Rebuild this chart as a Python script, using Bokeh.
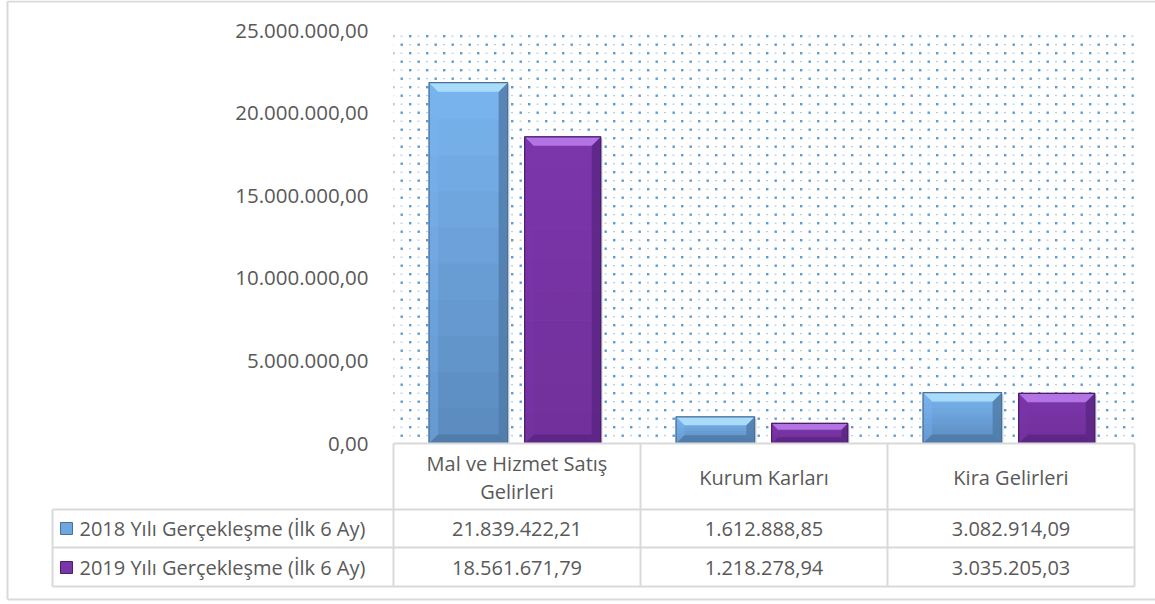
import base64
from bokeh.plotting import figure
from bokeh.models import Range1d, ImageURLTexture
from bokeh.core.properties import value
from bokeh.embed import file_html
from bokeh.resources import INLINE

# ---------------- data ----------------
categories = ["Mal ve Hizmet Satış\nGelirleri", "Kurum Karları", "Kira Gelirleri"]
series_names = ["2018 Yılı Gerçekleşme (İlk 6 Ay)", "2019 Yılı Gerçekleşme (İlk 6 Ay)"]
values_2018 = [21839422.21, 1612888.85, 3082914.09]
values_2019 = [18561671.79, 1218278.94, 3035205.03]
y_ticks = [0, 5000000, 10000000, 15000000, 20000000, 25000000]
y_max = 25000000


def tr_fmt(v):
    s = f"{v:,.2f}"
    return s.replace(",", "X").replace(".", ",").replace("X", ".")


# ---------------- layout (pixels on page) ----------------
FX0, FY0, W, H = 0, 0, 1155, 601
PL, PR, PT, PB = 393, 1134, 30, 443
NC = len(categories)
CW = (PR - PL) / NC
VPP = y_max / (PB - PT)


def dx(px):
    return -0.5 + (px - PL) / CW


def dy(py):
    return (PB - py) * VPP


FONT = value("Open Sans")
TXT = "#595959"
GRID = "#d9d9d9"

p = figure(width=W, height=H, output_backend="svg", toolbar_location=None,
           x_range=Range1d(dx(FX0), dx(FX0 + W)), y_range=Range1d(dy(FY0 + H), dy(FY0)),
           x_axis_location=None, y_axis_location=None, min_border=0, title=None)
p.grid.visible = False
p.outline_line_color = None
p.background_fill_color = "white"
p.border_fill_color = "white"

# outer chart border
p.segment(x0=[dx(7), dx(7), dx(7)], y0=[dy(1), dy(1), dy(599)],
          x1=[dx(7), dx(1155), dx(1155)], y1=[dy(599), dy(1), dy(599)],
          line_color=GRID, line_width=2)

# dotted plot-area background (Excel-like 5% dot pattern as a texture tile)
tile_svg = ("<svg xmlns='http://www.w3.org/2000/svg' width='17' height='17'>"
            "<rect x='1' y='1' width='2.4' height='2.4' fill='#5b9bd5'/>"
            "<rect x='9.5' y='9.5' width='2.4' height='2.4' fill='#5b9bd5'/>"
            "<rect x='9.5' y='1.6' width='2' height='1.1' fill='#5b9bd5' fill-opacity='0.55'/>"
            "<rect x='1' y='10.1' width='2' height='1.1' fill='#5b9bd5' fill-opacity='0.55'/>"
            "</svg>")
tile_url = "data:image/svg+xml;base64," + base64.b64encode(tile_svg.encode()).decode()
dots = ImageURLTexture(url=tile_url)
p.quad(left=[-0.5], right=[NC - 0.5], bottom=[0], top=[y_max], fill_color="white",
       line_color=None, hatch_pattern=value("dots"), hatch_extra={"dots": dots},
       hatch_color="#5b9bd5", hatch_alpha=1.0)


def lerp(c1, c2, t):
    a = [int(c1[i:i + 2], 16) for i in (1, 3, 5)]
    b = [int(c2[i:i + 2], 16) for i in (1, 3, 5)]
    return "#" + "".join(f"{round(a[k] + (b[k] - a[k]) * t):02x}" for k in range(3))


def bevel_bars(xs, vals, width, c_top, c_bot, c_bevel_top, c_side_r, c_bevel_bot, c_line):
    bpx = 9
    nb = 10
    p.vbar(x=[x + 2 / CW for x in xs], width=width, bottom=-3 * VPP,
           top=[v - 2 * VPP for v in vals], fill_color="#bfbfbf", fill_alpha=0.45,
           line_color=None)
    for i in range(nb):
        t0, t1 = i / nb, (i + 1) / nb
        col = lerp(c_bot, c_top, (t0 + t1) / 2)
        p.vbar(x=xs, width=width, bottom=[v * t0 for v in vals], top=[v * t1 for v in vals],
               fill_color=col, line_color=col, line_width=1)
    top_x, top_y, r_x, r_y, b_x, b_y, l_x, l_y = [], [], [], [], [], [], [], []
    for x, v in zip(xs, vals):
        hpx = v / VPP
        b = min(bpx, hpx / 3.2)
        bx, by = b / CW, b * VPP
        xl, xr = x - width / 2, x + width / 2
        top_x.append([xl, xr, xr - bx, xl + bx]); top_y.append([v, v, v - by, v - by])
        r_x.append([xr, xr, xr - bx, xr - bx]); r_y.append([v, 0, by, v - by])
        b_x.append([xl, xr, xr - bx, xl + bx]); b_y.append([0, 0, by, by])
        l_x.append([xl, xl, xl + bx, xl + bx]); l_y.append([v, 0, by, v - by])
    p.patches(l_x, l_y, fill_color=c_top, fill_alpha=0.35, line_color=None)
    p.patches(r_x, r_y, fill_color=c_side_r, fill_alpha=0.8, line_color=None)
    p.patches(b_x, b_y, fill_color=c_bevel_bot, fill_alpha=0.8, line_color=None)
    p.patches(top_x, top_y, fill_color=c_bevel_top, line_color=None)
    p.vbar(x=xs, width=width, bottom=0, top=vals, fill_color=None, line_color=c_line,
           line_width=1.2)


x18 = [i - 0.197 for i in range(NC)]
x19 = [i + 0.185 for i in range(NC)]
bevel_bars(x18, values_2018, 0.318, "#7ab5f0", "#5a8abd", "#a9dcf9", "#4f7aa8", "#4d78a5", "#4a6f99")
bevel_bars(x19, values_2019, 0.308, "#7c36ab", "#70309a", "#b274e2", "#5a2582", "#5a2582", "#4a1e6a")

# y tick labels
p.text(x=[dx(368)] * len(y_ticks), y=y_ticks, text=[tr_fmt(v) for v in y_ticks],
       text_align="right", text_baseline="middle", text_font=FONT, text_font_size="20.5px",
       text_color=TXT)

# ---------------- data table ----------------
row_lines = [509, 547, 586]
col_edges = [PL + i * CW for i in range(NC + 1)]
LEG_L = 52
p.quad(left=[dx(PL)], right=[dx(PR)], bottom=[dy(row_lines[-1])], top=[dy(PB)],
       fill_color="white", line_color=None)
p.segment(x0=[dx(PL)], y0=[dy(PB)], x1=[dx(PR)], y1=[dy(PB)], line_color=GRID, line_width=2)
p.segment(x0=[dx(LEG_L)] * 3, y0=[dy(r) for r in row_lines], x1=[dx(PR)] * 3,
          y1=[dy(r) for r in row_lines], line_color=GRID, line_width=2)
p.segment(x0=[dx(c) for c in col_edges], y0=[dy(PB)] * len(col_edges),
          x1=[dx(c) for c in col_edges], y1=[dy(row_lines[-1])] * len(col_edges),
          line_color=GRID, line_width=2)
p.segment(x0=[dx(LEG_L)], y0=[dy(row_lines[0])], x1=[dx(LEG_L)], y1=[dy(row_lines[-1])],
          line_color=GRID, line_width=2)

# header text
hx, hy, ht = [], [], []
for i, c in enumerate(categories):
    lines = c.split("\n")
    n = len(lines)
    for j, ln in enumerate(lines):
        hx.append(i)
        hy.append(dy(477 + (j - (n - 1) / 2) * 28))
        ht.append(ln)
p.text(x=hx, y=hy, text=ht, text_align="center", text_baseline="middle", text_font=FONT,
       text_font_size="20px", text_color=TXT)

# value rows
row_centers = [528, 567]
for vals, rc in zip([values_2018, values_2019], row_centers):
    p.text(x=list(range(NC)), y=[dy(rc)] * NC, text=[tr_fmt(v) for v in vals],
           text_align="center", text_baseline="middle", text_font=FONT,
           text_font_size="20px", text_color=TXT)

# legend keys + names
p.scatter(x=[dx(66)] * 2, y=[dy(rc) for rc in row_centers], marker="square", size=12,
          fill_color=["#6ea6e0", "#7a35a8"], line_color=["#4a6f99", "#4a1e6a"], line_width=1)
p.text(x=[dx(79)] * 2, y=[dy(rc) for rc in row_centers], text=series_names,
       text_align="left", text_baseline="middle", text_font=FONT, text_font_size="20px",
       text_color=TXT)

open("out.html", "w").write(file_html(p, INLINE))
